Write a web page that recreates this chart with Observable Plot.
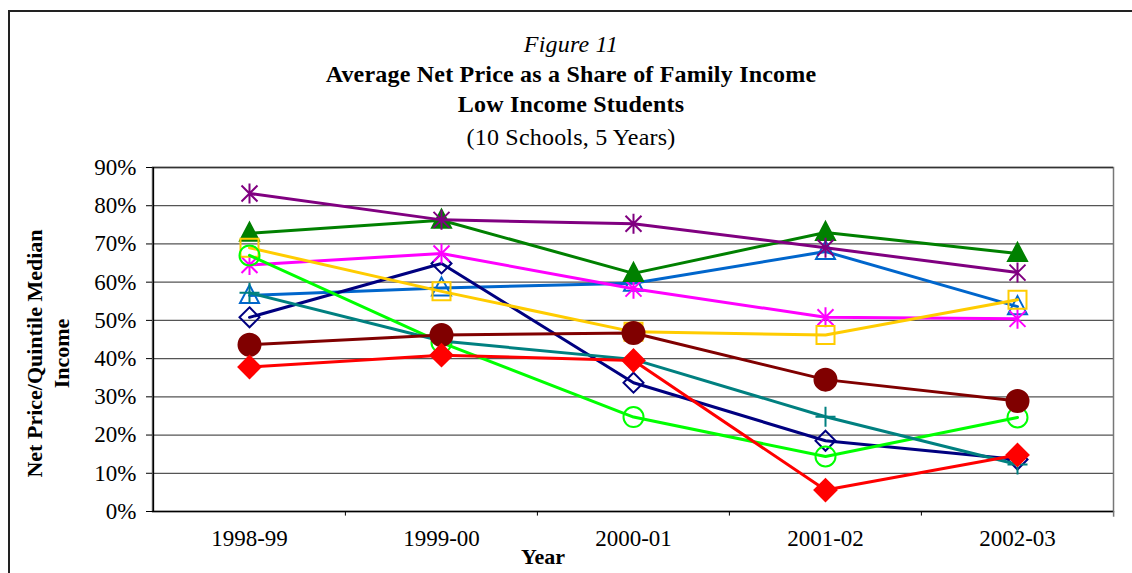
<!DOCTYPE html>
<html>
<head>
<meta charset="utf-8">
<script src="https://cdn.jsdelivr.net/npm/d3@7"></script>
<script src="https://cdn.jsdelivr.net/npm/@observablehq/plot@0.6"></script>
<style>
  html, body { margin: 0; padding: 0; background: #fff; }
  #wrap { position: relative; width: 1132px; height: 573px; overflow: hidden; font-family: "Liberation Serif", "Times New Roman", serif; color: #000; }
  #border { position: absolute; left: 8px; top: 10px; width: 1200px; height: 700px; border: 2px solid #222; box-sizing: border-box; }
  .t { position: absolute; left: 0; width: 1142px; text-align: center; white-space: nowrap; line-height: 1; font-size: 24px; letter-spacing: 0.2px; }
  #chart { position: absolute; left: 0; top: 150px; }
</style>
</head>
<body>
<div id="wrap">
  <div id="border"></div>
  <div class="t" style="top:32px;font-style:italic;">Figure 11</div>
  <div class="t" style="top:62px;font-weight:bold;">Average Net Price as a Share of Family Income</div>
  <div class="t" style="top:92px;font-weight:bold;">Low Income Students</div>
  <div class="t" style="top:125px;">(10 Schools, 5 Years)</div>
  <div id="chart"></div>
</div>
<script>
const years = ["1998-99", "1999-00", "2000-01", "2001-02", "2002-03"];
const yTicks = [0, 10, 20, 30, 40, 50, 60, 70, 80, 90];

// Net price as % of quintile median income, per school
const schoolBlueTriangle   = [56.5, 58.5, 59.7, 68.0, 53.6];
const schoolNavyDiamond    = [50.8, 64.9, 33.7, 18.5, 13.6];
const schoolMagentaStar    = [64.5, 67.5, 58.3, 50.8, 50.4];
const schoolGreenTriangle  = [72.8, 76.2, 62.3, 73.0, 67.5];
const schoolYellowSquare   = [69.0, 57.6, 47.0, 46.2, 55.4];
const schoolLimeCircle     = [67.0, 44.2, 24.7, 14.4, 24.6];
const schoolPurpleStar     = [83.2, 76.3, 75.3, 69.0, 62.5];
const schoolTealPlus       = [57.2, 44.6, 39.8, 24.8, 12.3];
const schoolMaroonCircle   = [43.6, 46.2, 46.7, 34.5, 28.9];
const schoolRedDiamond     = [37.8, 40.9, 39.5, 5.6, 14.8];

// custom Excel-like marker shapes
const rad = s => Math.sqrt(s / Math.PI);
const sym = {
  triangle: {draw(c, s) { const r = rad(s); c.moveTo(0, -r * 1.05); c.lineTo(r * 0.95, r * 0.75); c.lineTo(-r * 0.95, r * 0.75); c.closePath(); }},
  diamond: {draw(c, s) { const r = rad(s); c.moveTo(0, -r); c.lineTo(r, 0); c.lineTo(0, r); c.lineTo(-r, 0); c.closePath(); }},
  square: {draw(c, s) { const r = rad(s); c.moveTo(-r, -r); c.lineTo(r, -r); c.lineTo(r, r); c.lineTo(-r, r); c.closePath(); }},
  circle: {draw(c, s) { const r = rad(s); c.moveTo(r, 0); c.arc(0, 0, r, 0, 2 * Math.PI); }},
  star: {draw(c, s) { const r = rad(s), d = r * 0.8; c.moveTo(0, -r); c.lineTo(0, r); c.moveTo(-d, -d); c.lineTo(d, d); c.moveTo(-d, d); c.lineTo(d, -d); }},
  plus: {draw(c, s) { const r = rad(s); c.moveTo(0, -r); c.lineTo(0, r); c.moveTo(-r, 0); c.lineTo(r, 0); }}
};

const series = [
  {values: schoolBlueTriangle,  color: "#0066CC", symbol: sym.triangle, filled: false, r: 10},
  {values: schoolNavyDiamond,   color: "#000080", symbol: sym.diamond,  filled: false, r: 10},
  {values: schoolMagentaStar,   color: "#FF00FF", symbol: sym.star,     filled: false, r: 10},
  {values: schoolGreenTriangle, color: "#008000", symbol: sym.triangle, filled: true,  r: 10},
  {values: schoolYellowSquare,  color: "#FFCC00", symbol: sym.square,   filled: false, r: 9},
  {values: schoolLimeCircle,    color: "#00FF00", symbol: sym.circle,   filled: false, r: 10},
  {values: schoolPurpleStar,    color: "#800080", symbol: sym.star,     filled: false, r: 10},
  {values: schoolTealPlus,      color: "#008080", symbol: sym.plus,     filled: false, r: 10},
  {values: schoolMaroonCircle,  color: "#800000", symbol: sym.circle,   filled: true,  r: 11},
  {values: schoolRedDiamond,    color: "#FF0000", symbol: sym.diamond,  filled: true,  r: 11}
];

const W = 1132, H = 423, mL = 152, mR = 19, mT = 17, mB = 62;
const half = (W - mL - mR) / (years.length * 2);

const marks = [
  Plot.ruleY(yTicks.filter(d => d > 0 && d < 90), {stroke: "#555", strokeWidth: 1.2}),
  Plot.frame({stroke: "#777", strokeWidth: 1.5}),
  Plot.ruleY([90], {stroke: "#333", strokeWidth: 1.5}),
  Plot.ruleY([0], {stroke: "#000", strokeWidth: 1.5}),
  Plot.ruleX([years[0]], {dx: -half, y1: 0, y2: 90, stroke: "#000", strokeWidth: 1.5}),
  Plot.ruleX(years.slice(1), {dx: -half, y1: 0, y2: -1.2, stroke: "#000"}),
  Plot.ruleX([years[years.length - 1]], {dx: half, y1: 0, y2: -1.5, stroke: "#777", strokeWidth: 1.5}),
  Plot.axisY({ticks: yTicks, tickFormat: d => d + "%", tickSize: 6, tickPadding: 10, fontSize: 23}),
  Plot.axisX({tickSize: 0, tickPadding: 18, fontSize: 23}),
  Plot.text(["Net Price/Quintile Median\nIncome"], {frameAnchor: "left", textAnchor: "middle", rotate: -90, dx: -106, dy: 14, fontSize: 22, fontWeight: "bold", lineHeight: 1.25}),
  Plot.text(["Year"], {frameAnchor: "bottom", textAnchor: "middle", dx: -90, dy: 52, fontSize: 22, fontWeight: "bold", letterSpacing: "1px"})
];

for (const s of series) {
  const data = years.map((y, i) => ({year: y, v: s.values[i]}));
  marks.push(Plot.line(data, {x: "year", y: "v", stroke: s.color, strokeWidth: 3}));
  marks.push(Plot.dot(data, {
    x: "year", y: "v", symbol: s.symbol, r: s.r,
    fill: s.filled ? s.color : "none",
    stroke: s.color, strokeWidth: 2
  }));
}

const chart = Plot.plot({
  width: W, height: H,
  marginLeft: mL, marginRight: mR, marginTop: mT, marginBottom: mB,
  style: {fontFamily: "'Liberation Serif', 'Times New Roman', serif", fontSize: "20px", color: "#000", background: "transparent", overflow: "visible"},
  x: {type: "point", domain: years, padding: 0.5, label: null},
  y: {domain: [0, 90], label: null},
  marks
});
document.getElementById("chart").appendChild(chart);
</script>
</body>
</html>
